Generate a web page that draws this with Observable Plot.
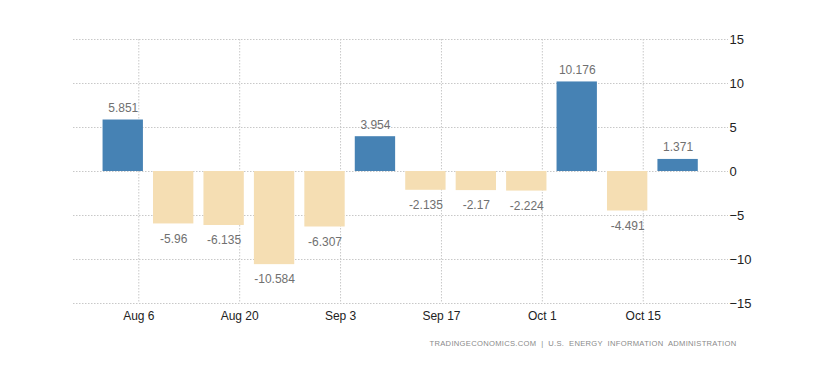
<!DOCTYPE html>
<html>
<head>
<meta charset="utf-8">
<script src="https://cdn.jsdelivr.net/npm/d3@7"></script>
<script src="https://cdn.jsdelivr.net/npm/@observablehq/plot@0.6"></script>
<style>
  html, body { margin: 0; padding: 0; background: #fff; }
  svg { display: block; }
</style>
</head>
<body>
<div id="chart"></div>
<script>
// Week-ending dates (2018) and weekly change in crude stocks (million barrels)
const weeks = ["2018-08-03","2018-08-10","2018-08-17","2018-08-24","2018-08-31","2018-09-07",
               "2018-09-14","2018-09-21","2018-09-28","2018-10-05","2018-10-12","2018-10-19"];
const values = [5.851, -5.96, -6.135, -10.584, -6.307, 3.954, -2.135, -2.17, -2.224, 10.176, -4.491, 1.371];
const labels = ["5.851","-5.96","-6.135","-10.584","-6.307","3.954","-2.135","-2.17","-2.224","10.176","-4.491","1.371"];
const xTicks = ["2018-08-06","2018-08-20","2018-09-03","2018-09-17","2018-10-01","2018-10-15"];
const yTicks = [-15, -10, -5, 0, 5, 10, 15];
const footer = "TRADINGECONOMICS.COM  |  U.S.  ENERGY  INFORMATION  ADMINISTRATION";

const DAY = 864e5;
const data = weeks.map((w, i) => {
  const d = new Date(w + "T00:00:00Z");
  const c = new Date(+d + 0.84 * DAY);
  return {
    center: c,
    x1: new Date(+c - 2.8 * DAY),
    x2: new Date(+c + 2.8 * DAY),
    value: values[i],
    label: labels[i]
  };
});
const tickDates = xTicks.map(t => new Date(t + "T00:00:00Z"));

const chart = Plot.plot({
  width: 829,
  height: 369,
  marginTop: 39,
  marginBottom: 66,
  marginLeft: 73,
  marginRight: 101,
  style: { fontFamily: "Arial, 'Liberation Sans', sans-serif", fontSize: "12px", color: "#333", background: "#fff" },
  x: {
    type: "utc",
    domain: [new Date(Date.UTC(2018, 6, 27, 22, 30)), new Date(Date.UTC(2018, 9, 26, 20, 0))],
    ticks: tickDates,
    tickFormat: d3.utcFormat("%b %-d"),
    label: null
  },
  y: { domain: [-15, 15], ticks: yTicks, label: null },
  marks: [
    Plot.ruleY(yTicks, { stroke: "#c8c8c8", strokeDasharray: "1.5,1.5", strokeWidth: 1 }),
    Plot.ruleX(tickDates, { stroke: "#c8c8c8", strokeDasharray: "1.5,1.5", strokeWidth: 1 }),
    Plot.rectY(data, {
      x1: "x1", x2: "x2", y1: 0, y2: "value",
      fill: d => d.value >= 0 ? "#4682B4" : "#F5DEB3"
    }),
    Plot.text(data.filter(d => d.value >= 0), {
      x: "center", y: "value", text: "label", dy: -12, fill: "#707070", fontSize: 12
    }),
    Plot.text(data.filter(d => d.value < 0), {
      x: "center", y: "value", text: "label", dy: 15, fill: "#707070", fontSize: 12
    }),
    Plot.axisX({ ticks: tickDates, tickFormat: d3.utcFormat("%b %-d"), tickSize: 0, tickPadding: 8, fill: "#222", fontSize: 12, label: null }),
    Plot.axisY({ anchor: "right", ticks: yTicks, tickSize: 0, tickPadding: 1, fill: "#222", fontSize: 13, label: null }),
    Plot.text([footer], {
      frameAnchor: "bottom-right", text: d => d, dx: 8, dy: 42,
      fill: "#8a8a8a", fontSize: 7.6, textAnchor: "end"
    })
  ]
});
chart.querySelectorAll("text").forEach(t => {
  if (t.textContent === footer) t.setAttribute("letter-spacing", "0.3");
});
document.getElementById("chart").append(chart);
</script>
</body>
</html>
